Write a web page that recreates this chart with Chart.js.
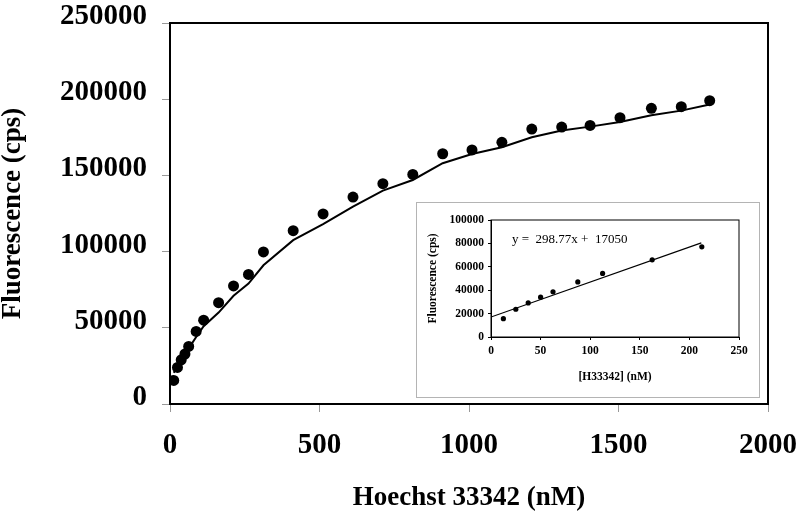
<!DOCTYPE html>
<html>
<head>
<meta charset="utf-8">
<script src="https://cdn.jsdelivr.net/npm/chart.js@4.4.0/dist/chart.umd.min.js"></script>
<style>
  html, body { margin: 0; padding: 0; background: #fff; }
  #wrap { position: relative; width: 800px; height: 517px; }
  #main { position: absolute; left: 0; top: 0; }
  #inset {
    position: absolute; left: 416px; top: 202px; width: 344px; height: 196px;
    box-sizing: border-box; border: 1px solid #b4b4b4; background: #fff;
  }
  #eq {
    position: absolute; left: 95px; top: 28px; line-height: 15px;
    font: 13px "Liberation Serif", "Times New Roman", serif; white-space: pre; color: #000;
  }
</style>
</head>
<body>
<div id="wrap">
  <canvas id="main" width="800" height="517"></canvas>
  <div id="inset">
    <canvas id="insetChart" width="342" height="194"></canvas>
    <div id="eq">y =  298.77x +  17050</div>
  </div>
</div>
<script>
// Titration data, main panel (Hoechst 33342, nM vs cps)
const concNM = [12.5, 25, 37.5, 50, 62.5, 87.5, 112.5, 162.5, 212.5, 262.5, 312.5,
  412, 512, 612, 712, 812, 912, 1010, 1110, 1210, 1310, 1405, 1505, 1610, 1710, 1805];
const fluorCps = [15500, 24000, 29000, 32800, 37800, 47600, 55000, 66500, 77500, 85000, 99800,
  113700, 124700, 135800, 144600, 150600, 164200, 166700, 171700, 180400, 181700, 182800,
  187900, 194000, 195100, 199000];
const fitCps = [20500, 25000, 29000, 32500, 36500, 44000, 51000, 60000, 71000, 79000, 91000,
  107500, 118000, 129500, 140000, 147000, 158000, 164000, 168500, 175000, 179500, 182000,
  185000, 189500, 192500, 196500];

// Inset: low concentration linear range
const insetConc = [12.5, 25, 37.5, 50, 62.5, 87.5, 112.5, 162.5, 212.5];
const insetCps = [15700, 23700, 29100, 34000, 38600, 47100, 54300, 66000, 77100];
const trendConc = [0, 212];
const trendCps = [17050, 80400];

const mainYTicks = [0, 50000, 100000, 150000, 200000, 250000];
const mainXTicks = [0, 500, 1000, 1500, 2000];

const SERIF = '"Liberation Serif", "Times New Roman", serif';

const toXY = (xs, ys) => xs.map((x, i) => ({ x, y: ys[i] }));
const plain = (v) => String(v); // no thousands separators, like the original

// draws the box round the plot area
const frameBox = {
  id: 'frameBox',
  afterDraw(chart, args, opts) {
    const { left, top, right, bottom } = chart.chartArea;
    const ctx = chart.ctx;
    ctx.save();
    ctx.strokeStyle = '#000';
    ctx.lineWidth = opts.width || 1;
    ctx.strokeRect(left, top, right - left, bottom - top);
    ctx.restore();
  }
};

Chart.register(frameBox);

new Chart(document.getElementById('main'), {
  type: 'scatter',
  data: {
    datasets: [
      {
        label: 'measured',
        data: toXY(concNM, fluorCps),
        backgroundColor: '#000',
        borderWidth: 0,
        pointRadius: 5.5
      },
      {
        label: 'fit',
        data: toXY(concNM, fitCps),
        showLine: true,
        borderColor: '#000',
        borderWidth: 2,
        pointRadius: 0,
        tension: 0
      }
    ]
  },
  options: {
    responsive: false,
    animation: false,
    devicePixelRatio: 1,
    layout: { padding: { top: 23, right: 32, left: 0, bottom: 0 } },
    plugins: {
      legend: { display: false },
      tooltip: { enabled: false },
      frameBox: { width: 2 }
    },
    scales: {
      x: {
        type: 'linear',
        min: 0,
        max: 2000,
        afterBuildTicks: (s) => { s.ticks = mainXTicks.map(v => ({ value: v })); },
        afterFit: (s) => {
          s.height = 113;
          // let the end labels hang over, the layout padding is enough
          s.paddingLeft = 0;
          s.paddingRight = 0;
        },
        grid: { drawOnChartArea: false, drawTicks: true, tickLength: 8, color: '#999' },
        border: { color: '#000', width: 2 },
        ticks: {
          color: '#000',
          padding: 16,
          maxRotation: 0,
          callback: plain,
          font: { family: SERIF, size: 29, weight: 'bold' }
        },
        title: {
          display: true,
          text: 'Hoechst 33342 (nM)',
          color: '#000',
          padding: { top: 0, bottom: 3 },
          font: { family: SERIF, size: 27, weight: 'bold', lineHeight: 1.2 }
        }
      },
      y: {
        type: 'linear',
        min: 0,
        max: 250000,
        afterBuildTicks: (s) => { s.ticks = mainYTicks.map(v => ({ value: v })); },
        afterFit: (s) => {
          s.width = 170;
          s.paddingTop = 0;
          s.paddingBottom = 0;
        },
        grid: { drawOnChartArea: false, drawTicks: true, tickLength: 8, color: '#999' },
        border: { color: '#000', width: 2 },
        ticks: {
          color: '#000',
          padding: 15,
          // empty second line nudges the label a little above its tick
          callback: (v) => [String(v), ''],
          font: { family: SERIF, size: 29, weight: 'bold', lineHeight: 0.45 }
        },
        title: {
          display: true,
          text: 'Fluorescence (cps)',
          color: '#000',
          padding: { top: 0, bottom: 0 },
          font: { family: SERIF, size: 27, weight: 'bold', lineHeight: 1 }
        }
      }
    }
  }
});

new Chart(document.getElementById('insetChart'), {
  type: 'scatter',
  data: {
    datasets: [
      {
        label: 'low range',
        data: toXY(insetConc, insetCps),
        backgroundColor: '#000',
        borderWidth: 0,
        pointRadius: 2.6
      },
      {
        label: 'linear fit',
        data: toXY(trendConc, trendCps),
        showLine: true,
        borderColor: '#000',
        borderWidth: 1.2,
        pointRadius: 0
      }
    ]
  },
  options: {
    responsive: false,
    animation: false,
    devicePixelRatio: 1,
    layout: { padding: { top: 17, right: 20, left: 0, bottom: 0 } },
    plugins: {
      legend: { display: false },
      tooltip: { enabled: false },
      frameBox: { width: 1 }
    },
    scales: {
      x: {
        type: 'linear',
        min: 0,
        max: 250,
        ticks: {
          stepSize: 50,
          color: '#000',
          padding: 4,
          maxRotation: 0,
          callback: plain,
          font: { family: SERIF, size: 11.5, weight: 'bold' }
        },
        afterFit: (s) => {
          s.height = 60;
          s.paddingLeft = 0;
          s.paddingRight = 0;
        },
        grid: { drawOnChartArea: false, drawTicks: true, tickLength: 3, color: '#000' },
        border: { color: '#000', width: 1 },
        title: {
          display: true,
          text: '[H33342] (nM)',
          color: '#000',
          padding: { top: 0, bottom: 14 },
          font: { family: SERIF, size: 11.5, weight: 'bold', lineHeight: 1 }
        }
      },
      y: {
        type: 'linear',
        min: 0,
        max: 100000,
        ticks: {
          stepSize: 20000,
          color: '#000',
          padding: 4,
          callback: plain,
          font: { family: SERIF, size: 11.5, weight: 'bold' }
        },
        afterFit: (s) => {
          s.width = 74;
          s.paddingTop = 0;
          s.paddingBottom = 0;
        },
        grid: { drawOnChartArea: false, drawTicks: true, tickLength: 3, color: '#000' },
        border: { color: '#000', width: 1 },
        title: {
          display: true,
          text: 'Fluorescence (cps)',
          color: '#000',
          padding: { top: 10, bottom: 0 },
          font: { family: SERIF, size: 11.5, weight: 'bold', lineHeight: 1 }
        }
      }
    }
  }
});
</script>
</body>
</html>
